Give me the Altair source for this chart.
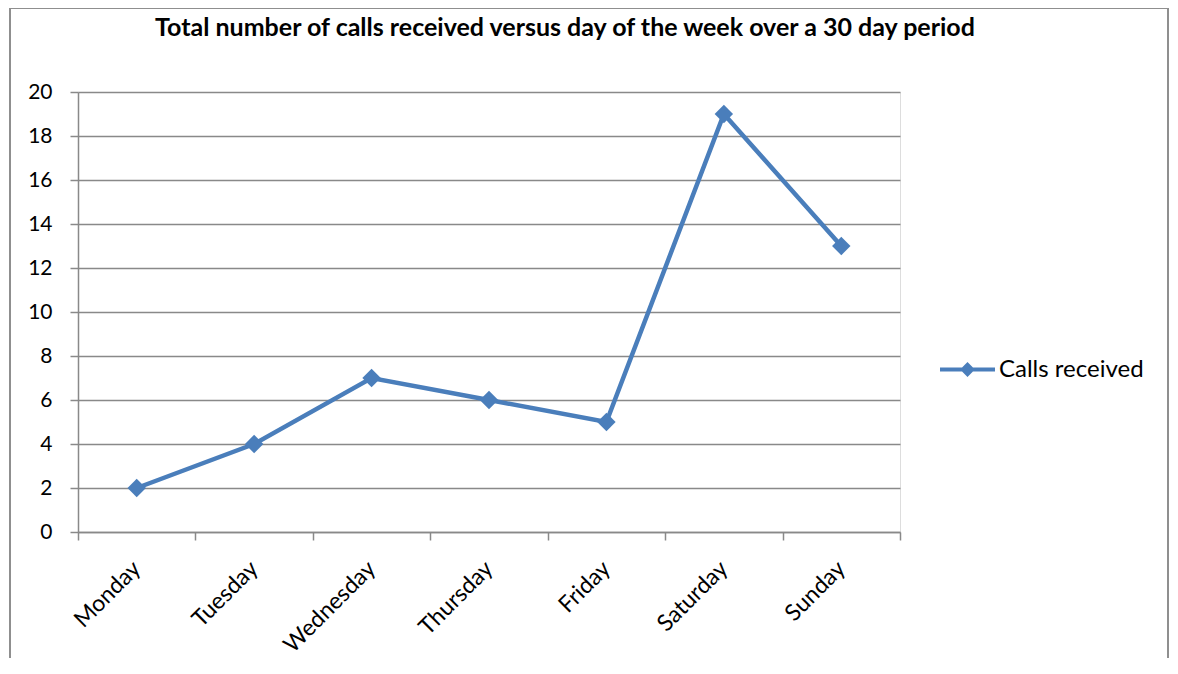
import altair as alt
import pandas as pd

days = ["Monday", "Tuesday", "Wednesday", "Thursday", "Friday", "Saturday", "Sunday"]
calls = [2, 4, 7, 6, 5, 19, 13]
y_ticks = list(range(0, 21, 2))
series_name = "Calls received"
title_text = "Total number of calls received versus day of the week over a 30 day period"

df = pd.DataFrame({"day": days, "calls": calls, "pos": [i + 0.5 for i in range(len(days))]})

FONT = "Lato"
BLUE = "#4A7EBB"
GRID = "#898989"

x_values = [i * 0.5 for i in range(0, 2 * len(days) + 1)]
day_list = "[" + ",".join("'" + d + "'" for d in days) + "]"
label_expr = f"datum.value % 1 == 0 ? '' : {day_list}[floor(datum.value)]"

x_enc = alt.X(
    "pos:Q",
    scale=alt.Scale(domain=[0, len(days)], nice=False, zero=False),
    axis=alt.Axis(
        values=x_values,
        labelExpr=label_expr,
        labelAngle=-45,
        labelFontSize=23,
        labelFont=FONT,
        labelColor="black",
        labelPadding=17,
        labelOffset=-8,
        tickSize=8,
        tickWidth=1.5,
        tickColor=GRID,
        tickOpacity={"expr": "datum.value % 1 == 0 ? 1 : 0"},
        domainColor=GRID,
        domainWidth=1.5,
        grid=False,
        title=None,
        labelOverlap=False,
        labelBound=False,
    ),
)
y_enc = alt.Y(
    "calls:Q",
    scale=alt.Scale(domain=[0, 20], nice=False),
    axis=alt.Axis(
        values=y_ticks,
        labelFontSize=21,
        labelFont=FONT,
        labelColor="black",
        labelPadding=18,
        tickSize=8,
        tickWidth=1.5,
        tickColor=GRID,
        domainColor=GRID,
        domainWidth=1.5,
        grid=True,
        gridColor=GRID,
        gridWidth=1.5,
        title=None,
    ),
)

border = alt.Chart(alt.Data(values=[{"a": 1}])).mark_rect(
    fill=None, stroke="#8f8f8f", strokeWidth=2, clip=False
).encode(
    x=alt.value(-68), x2=alt.value(1090), y=alt.value(-84), y2=alt.value(700)
)

line = alt.Chart(df).mark_line(color=BLUE, strokeWidth=4.5).encode(x=x_enc, y=y_enc)

legend_path = "M-1,-0.075L1,-0.075L1,0.075L-1,0.075Z M0,-0.27L0.27,0L0,0.27L-0.27,0Z"

points = alt.Chart(df).mark_point(
    shape="diamond", size=340, filled=True, opacity=1
).encode(
    x=x_enc,
    y=y_enc,
    color=alt.Color(
        "series:N",
        scale=alt.Scale(domain=[series_name], range=[BLUE]),
        legend=alt.Legend(
            title=None,
            orient="none",
            legendX=862,
            legendY=250,
            symbolType=legend_path,
            symbolSize=3025,
            symbolStrokeWidth=0,
            labelFont=FONT,
            labelFontSize=24,
            labelColor="black",
            labelOffset=4,
            padding=0,
        ),
    ),
).transform_calculate(series=f"'{series_name}'")

chart = alt.layer(border, line, points).properties(
    width=822,
    height=440,
    title=alt.TitleParams(
        title_text,
        font=FONT,
        fontSize=25,
        fontWeight="bold",
        color="black",
        anchor="middle",
        frame="group",
        baseline="bottom",
        dx=76,
        offset=-59,
    ),
    autosize=alt.AutoSizeParams(type="none"),
    padding={"left": 70, "top": 84, "right": 270, "bottom": 126},
).configure_view(stroke=None).configure(background="white")

chart.save("out.html", embed_options={"renderer": "svg", "actions": False})
